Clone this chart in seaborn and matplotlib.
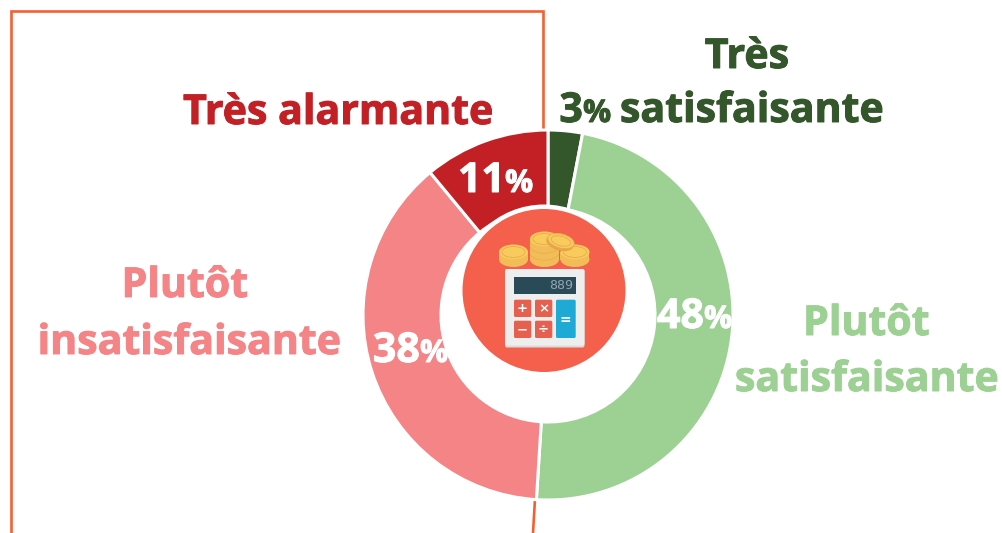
import matplotlib
matplotlib.use("Agg")
import matplotlib.pyplot as plt
import matplotlib.patheffects as pe
from matplotlib.patches import Arc, Circle, Ellipse, FancyBboxPatch, Rectangle
import seaborn as sns

# ---- data ----
categories = ["Très satisfaisante", "Plutôt satisfaisante", "Plutôt insatisfaisante", "Très alarmante"]
values = [3, 48, 38, 11]
colors = ["#33562A", "#9DD193", "#F58487", "#C32026"]

W, H = 1002, 533
sns.set_theme(style="white")
plt.rcParams["font.family"] = ["Open Sans", "DejaVu Sans"]
plt.rcParams["font.weight"] = "bold"

fig = plt.figure(figsize=(W / 100, H / 100), dpi=100, facecolor="white")
ax = fig.add_axes([0, 0, 1, 1])
Y = lambda y: H - y

# frame
ORANGE = "#F65F30"
ax.plot([543, 543, 11, 11], [Y(130), Y(11), Y(11), Y(533)], color=ORANGE, lw=1.9, solid_joinstyle="miter", zorder=1)
ax.plot([535, 533], [Y(499), Y(533)], color=ORANGE, lw=1.9, zorder=1)

# donut
ax.pie(values, colors=colors, startangle=90, counterclock=False, center=(548, Y(315)), radius=185,
       frame=True, wedgeprops=dict(width=78, edgecolor="white", linewidth=2.2, zorder=2))
ax.set_xlim(0, W)
ax.set_ylim(0, H)
ax.set_aspect("auto")
ax.axis("off")

# centre icon
ax.add_patch(Circle((544, Y(290.5)), 86, fc="white", ec="none", zorder=3))
ax.add_patch(Circle((544, Y(290.5)), 81.5, fc="#F4604C", ec="none", zorder=3))

LINE = "#E8AC4E"
def stack(cx, top, bottom, rx=14.5, ry=7.5):
    ax.add_patch(Ellipse((cx, Y(bottom - ry)), 2 * rx, 2 * ry, fc="#F2BC58", ec="none", zorder=4))
    ax.add_patch(Rectangle((cx - rx, Y(bottom - ry)), 2 * rx, bottom - ry - top, fc="#F2BC58", ec="none", zorder=4))
    n = max(1, int(round((bottom - top - ry) / 6.5)))
    for i in range(1, n):
        ax.add_patch(Arc((cx, Y(top + i * (bottom - ry - top) / n)), 2 * rx, 2 * ry, theta1=180, theta2=360,
                         ec=LINE, lw=0.5, zorder=5))
    ax.add_patch(Ellipse((cx, Y(top)), 2 * rx, 2 * ry, fc="#F9CA5C", ec="none", zorder=6))
    ax.add_patch(Ellipse((cx, Y(top)), 2 * rx - 6, 2 * ry - 4, fc="#F9CA5C", ec=LINE, lw=0.6, zorder=6))

stack(513.5, 252, 267)
stack(544.5, 239, 267)
stack(575, 252, 267)
ax.add_patch(Ellipse((560, Y(243)), 28, 15, angle=-15, fc="#E8A44A", ec="none", zorder=7))
ax.add_patch(Ellipse((561, Y(241)), 27, 14, angle=-15, fc="#F9CA5C", ec=LINE, lw=0.6, zorder=7))
ax.add_patch(Ellipse((561, Y(241)), 20, 9.5, angle=-15, fc="#F9CA5C", ec=LINE, lw=0.6, zorder=7))

def rbox(x0, y0, x1, y1, fc, r=1.5, z=8):
    ax.add_patch(FancyBboxPatch((x0 + r, Y(y1) + r), x1 - x0 - 2 * r, y1 - y0 - 2 * r,
                                boxstyle=f"round,pad={r},rounding_size={r}", fc=fc, ec="none", zorder=z))

rbox(505, 269, 584.5, 347.5, "#DCDCDC", 2)
rbox(505, 269, 584.5, 345.5, "#EEEEEE", 2)
rbox(514, 277, 576, 294, "#2B4A58", 0.2, 9)
ax.text(572.8, Y(285.7), "889", color="#90A4AC", fontsize=9.5, fontweight="normal", family="DejaVu Sans Mono",
        ha="right", va="center", zorder=10)
for (x0, y0, sym) in [(514, 299.7, "+"), (535, 299.7, "×"), (514, 320.7, "−"), (535, 320.7, "÷")]:
    rbox(x0, y0, x0 + 17.3, y0 + 17.3, "#E5604F", 1.5, 9)
    ax.text(x0 + 8.6, Y(y0 + 8.9), sym, color="white", fontsize=9.5, fontweight="bold", family="DejaVu Sans",
            ha="center", va="center", zorder=10)
rbox(556, 299.7, 575.7, 338, "#1EAAD4", 1.5, 9)
ax.text(565.8, Y(319.5), "=", color="white", fontsize=10, fontweight="bold", family="DejaVu Sans",
        ha="center", va="center", zorder=10)

# labels
SIZE = 29.6
def heavy(c):
    return [pe.withStroke(linewidth=0.7, foreground=c)]

def label(xc, base, s, c):
    ax.text(xc, Y(base), s, color=c, fontsize=SIZE, fontweight="bold", ha="center", va="baseline", zorder=11,
            path_effects=heavy(c))

label(747, 68, "Très", colors[0])
label(752, 122, "satisfaisante", colors[0])
label(338.5, 124, categories[3], colors[3])
label(185, 297, "Plutôt", colors[2])
label(189.5, 354, "insatisfaisante", colors[2])
label(866.5, 335, "Plutôt", colors[1])
label(867, 391, "satisfaisante", colors[1])

def pct(split, base, v, c):
    ax.text(split, Y(base), str(v), color=c, fontsize=SIZE, fontweight="bold", ha="right", va="baseline", zorder=11,
            path_effects=heavy(c))
    ax.text(split, Y(base), "%", color=c, fontsize=SIZE * 0.76, fontweight="bold", ha="left", va="baseline", zorder=11,
            path_effects=heavy(c))

pct(583, 122, values[0], colors[0])
pct(704, 328, values[1], "white")
pct(420, 362, values[2], "white")
pct(505, 192, values[3], "white")

fig.savefig("out.png", dpi=100)
